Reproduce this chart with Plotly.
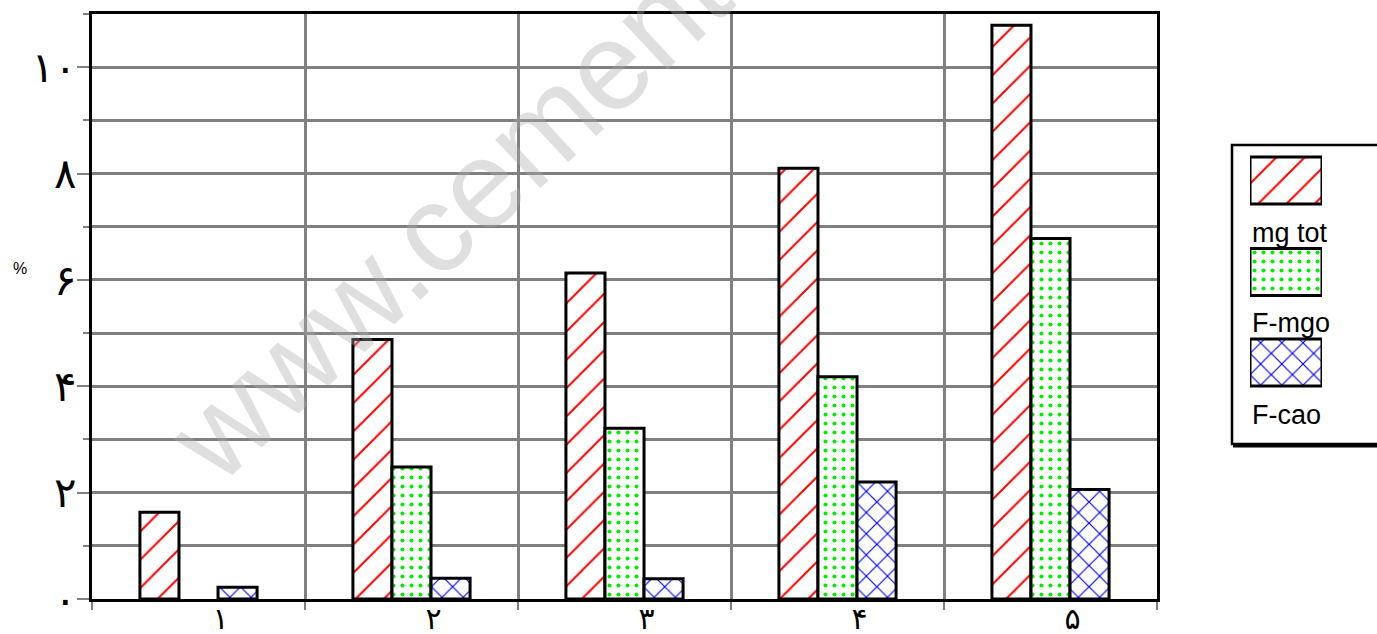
import plotly.graph_objects as go

# Categories (Persian numerals) and series values (%)
categories = ["۱", "۲", "۳", "۴", "۵"]
mg_tot = [1.63, 4.88, 6.13, 8.10, 10.79]
f_mgo = [None, 2.48, 3.21, 4.18, 6.78]
f_cao = [0.22, 0.39, 0.38, 2.20, 2.06]

series_names = ["mg tot", "F-mgo", "F-cao"]
y_tick_vals = [0, 2, 4, 6, 8, 10]
y_tick_text = ["۰", "۲", "۴", "۶", "۸", "۱۰"]

# Hatch styles per series
hatch_shapes = ["/", ".", "x"]
hatch_colors = ["#ff0000", "#00ee00", "#0000ff"]
hatch_sizes = [20, 9, 15]
hatch_solidity = [0.1, 0.16, 0.15]

W, H = 1377, 634
ML, MT, MB = 92, 14, 35
PLOT_RIGHT = 1157
paper_w = W - ML
paper_h = H - MT - MB


def px_x(px):
    return (px - ML) / paper_w


def px_y(py):
    return (H - MB - py) / paper_h


GRID = "#808080"

fig = go.Figure()

for name, vals, shp, col, sz, sol in zip(series_names, [mg_tot, f_mgo, f_cao],
                                        hatch_shapes, hatch_colors, hatch_sizes, hatch_solidity):
    fig.add_trace(go.Bar(
        x=categories, y=vals, name=name,
        marker=dict(color="white",
                    line=dict(color="black", width=3),
                    pattern=dict(shape=shp, fgcolor=col, bgcolor="white", fgopacity=1,
                                 fillmode="replace", size=sz, solidity=sol)),
        showlegend=False,
    ))

# Legend keys: large hatched swatches on their own small axes
legend_rows_px = [180.5, 272, 362.5]
fig.add_trace(go.Bar(
    x=[1, 1, 1], y=legend_rows_px, base=0, width=47, orientation="h",
    xaxis="x2", yaxis="y2", showlegend=False, hoverinfo="skip",
    marker=dict(color="white",
                line=dict(color="black", width=3),
                pattern=dict(shape=hatch_shapes, fgcolor=hatch_colors, bgcolor="white",
                             fgopacity=1, fillmode="replace",
                             size=hatch_sizes, solidity=hatch_solidity)),
))

fig.update_layout(
    width=W, height=H,
    margin=dict(l=ML, r=0, t=MT, b=MB, pad=0, autoexpand=False),
    paper_bgcolor="white", plot_bgcolor="white",
    barmode="group", bargap=0.45, bargroupgap=0,
    font=dict(family="DejaVu Sans", color="black"),
    xaxis=dict(
        domain=[0, px_x(PLOT_RIGHT)], type="category", range=[-0.5, 4.5],
        automargin=False,
        tickson="boundaries", showgrid=True, gridcolor=GRID, gridwidth=2.5,
        ticks="outside", ticklen=8, tickcolor=GRID, tickwidth=2,
        showline=True, linecolor="black", linewidth=3, mirror=True,
        tickfont=dict(family="DejaVu Sans", size=30, color="black"),
        ticklabelshift=22, ticklabelstandoff=-9,
    ),
    yaxis=dict(
        domain=[0, 1], range=[0, 11], automargin=False,
        tickmode="array", tickvals=y_tick_vals, ticktext=y_tick_text,
        ticks="outside", ticklen=12, tickcolor=GRID, tickwidth=2,
        showgrid=True, gridcolor=GRID, gridwidth=2.5, zeroline=False,
        minor=dict(dtick=1, tick0=0, ticks="outside", ticklen=6, tickcolor=GRID,
                   tickwidth=2, showgrid=True, gridcolor=GRID, gridwidth=2.5),
        showline=True, linecolor="black", linewidth=3, mirror=True,
        tickfont=dict(family="DejaVu Sans", size=42, color="black"),
        ticklabelshift=0, ticklabelstandoff=-8,
    ),
    xaxis2=dict(domain=[px_x(1250), px_x(1322)], range=[0, 1], visible=False,
                anchor="y2", fixedrange=True),
    yaxis2=dict(domain=[0, 1], range=[H - MB, MT], visible=False,
                anchor="x2", fixedrange=True),
)

# Legend frame with a heavier bottom edge
fig.add_shape(type="rect", xref="paper", yref="paper",
              x0=px_x(1232), x1=1.02, y0=px_y(444), y1=px_y(145),
              line=dict(color="black", width=2.5), fillcolor="rgba(0,0,0,0)", layer="below")
fig.add_shape(type="line", xref="paper", yref="paper",
              x0=px_x(1233), x1=1.02, y0=px_y(446), y1=px_y(446),
              line=dict(color="black", width=3))

legend_text_px = [233, 323, 415]
for name, py in zip(series_names, legend_text_px):
    fig.add_annotation(text=name, xref="paper", yref="paper",
                       x=px_x(1250), y=px_y(py), xanchor="left", yanchor="middle",
                       showarrow=False,
                       font=dict(family="Liberation Sans", size=27, color="black"))

# Axis unit label
fig.add_annotation(text="%", xref="paper", yref="paper",
                   x=px_x(20), y=px_y(268), xanchor="center", yanchor="middle",
                   showarrow=False,
                   font=dict(family="Liberation Sans", size=16, color="black"))

# Diagonal site watermark
fig.add_annotation(text="www.cement", xref="paper", yref="paper",
                   x=px_x(448), y=px_y(214), xanchor="center", yanchor="middle",
                   textangle=-43, showarrow=False,
                   font=dict(family="Liberation Sans", size=125, color="rgba(170,170,170,0.38)"))

fig.write_html("out.html")
